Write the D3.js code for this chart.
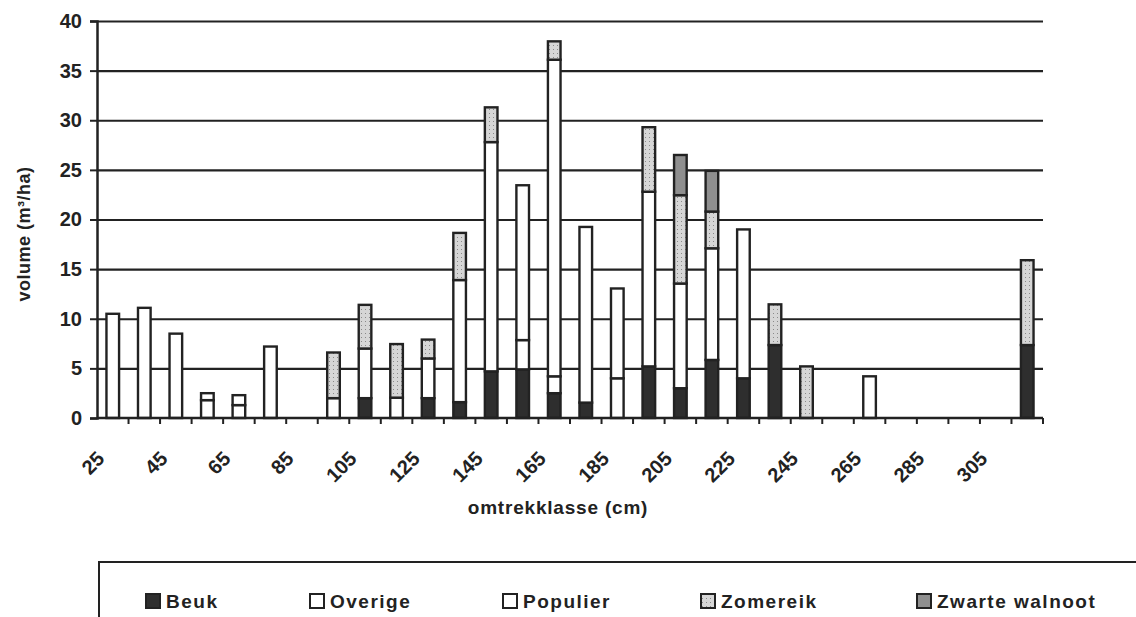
<!DOCTYPE html>
<html>
<head>
<meta charset="utf-8">
<script src="https://cdn.jsdelivr.net/npm/d3@7"></script>
<style>
  body { margin: 0; background: #fff; }
  svg { display: block; font-family: "Liberation Sans", Arial, sans-serif; font-weight: bold; }
</style>
</head>
<body>
<svg id="canvas"></svg>
<script>
// omtrekklassen (cm)
const classes = [25, 35, 45, 55, 65, 75, 85, 95, 105, 115, 125, 135, 145, 155, 165,
                 175, 185, 195, 205, 215, 225, 235, 245, 255, 265, 275, 285, 295, 305, 315];
const labelled = [25, 45, 65, 85, 105, 125, 145, 165, 185, 205, 225, 245, 265, 285, 305];

// volume per soort (m3/ha)
const beuk     = [0, 0, 0, 0, 0, 0, 0, 0, 2.0, 0, 2.0, 1.6, 4.7, 4.9, 2.5, 1.55, 0, 5.2, 3.0, 5.85, 4.0, 7.35, 0, 0, 0, 0, 0, 0, 0, 7.35];
const overige  = [10.5, 11.1, 8.5, 1.8, 1.3, 7.2, 0, 2.0, 0, 2.05, 0, 0, 0, 2.95, 1.7, 0, 4.0, 0, 0, 0, 0, 0, 0, 0, 0, 0, 0, 0, 0, 0];
const populier = [0, 0, 0, 0.7, 1.0, 0, 0, 0, 5.0, 0, 4.0, 12.3, 23.1, 15.6, 31.9, 17.7, 9.05, 17.6, 10.55, 11.25, 15.0, 0, 0, 0, 4.2, 0, 0, 0, 0, 0];
const zomereik = [0, 0, 0, 0, 0, 0, 0, 4.6, 4.4, 5.4, 1.9, 4.75, 3.5, 0, 1.85, 0, 0, 6.5, 8.9, 3.7, 0, 4.1, 5.2, 0, 0, 0, 0, 0, 0, 8.55];
const walnoot  = [0, 0, 0, 0, 0, 0, 0, 0, 0, 0, 0, 0, 0, 0, 0, 0, 0, 0, 4.05, 4.1, 0, 0, 0, 0, 0, 0, 0, 0, 0, 0];

const seriesNames = ['Beuk', 'Overige', 'Populier', 'Zomereik', 'Zwarte walnoot'];
const yTicks = [0, 5, 10, 15, 20, 25, 30, 35, 40];

const width = 1136;
const height = 617;
const margin = { top: 21, right: 93, bottom: 199, left: 97 };
const ink = '#222';

const svg = d3.select('#canvas').attr('width', width).attr('height', height);

const defs = svg.append('defs');
const stip = defs.append('pattern').attr('id', 'stip')
  .attr('patternUnits', 'userSpaceOnUse').attr('width', 4).attr('height', 4);
stip.append('rect').attr('width', 4).attr('height', 4).attr('fill', '#d6d6d6');
stip.append('rect').attr('x', 1).attr('y', 1).attr('width', 1).attr('height', 1).attr('fill', '#8a8a8a');

const fills = {
  'Beuk': '#2e2e2e',
  'Overige': '#fff',
  'Populier': '#fff',
  'Zomereik': 'url(#stip)',
  'Zwarte walnoot': '#8f8f8f'
};

const rows = classes.map((c, i) => ({
  klasse: c,
  'Beuk': beuk[i],
  'Overige': overige[i],
  'Populier': populier[i],
  'Zomereik': zomereik[i],
  'Zwarte walnoot': walnoot[i]
}));

const stacked = d3.stack().keys(seriesNames)(rows);

const x = d3.scaleBand()
  .domain(classes)
  .range([margin.left, width - margin.right])
  .paddingInner(0.6)
  .paddingOuter(0.3);

const y = d3.scaleLinear()
  .domain([0, 40])
  .range([height - margin.bottom, margin.top]);

// gridlines
svg.append('g')
  .attr('transform', `translate(${margin.left},0)`)
  .call(d3.axisLeft(y).tickValues(yTicks.slice(1)).tickSize(-(width - margin.left - margin.right)).tickFormat(''))
  .call(g => g.select('.domain').remove())
  .call(g => g.selectAll('line').attr('stroke', ink).attr('stroke-width', 2.2));

// y axis
svg.append('g')
  .attr('transform', `translate(${margin.left},0)`)
  .call(d3.axisLeft(y).tickValues(yTicks).tickSize(7).tickPadding(8))
  .call(g => g.select('.domain').attr('stroke', ink).attr('stroke-width', 2.5))
  .call(g => g.selectAll('line').attr('stroke', ink).attr('stroke-width', 2))
  .call(g => g.selectAll('text').attr('fill', '#222').style('font-size', '20px').style('font-weight', 'bold')
    .style('font-family', '"Liberation Sans", Arial, sans-serif'));

// bars
const half = x.step() * 0.3;
svg.append('g').selectAll('g')
  .data(stacked)
  .join('g')
  .attr('fill', d => fills[d.key])
  .selectAll('rect')
  .data(d => d.filter(s => s[1] - s[0] > 0))
  .join('rect')
  .attr('x', d => x(d.data.klasse))
  .attr('y', d => y(d[1]))
  .attr('width', x.bandwidth())
  .attr('height', d => y(d[0]) - y(d[1]))
  .attr('stroke', ink)
  .attr('stroke-width', 2.4);

// x axis line and ticks at class boundaries
const axisY = y(0);
svg.append('line')
  .attr('x1', margin.left).attr('x2', width - margin.right)
  .attr('y1', axisY).attr('y2', axisY)
  .attr('stroke', ink).attr('stroke-width', 2.5);
svg.append('g').selectAll('line')
  .data(classes)
  .join('line')
  .attr('x1', d => x(d) + x.bandwidth() + half)
  .attr('x2', d => x(d) + x.bandwidth() + half)
  .attr('y1', axisY).attr('y2', axisY + 6)
  .attr('stroke', ink).attr('stroke-width', 2);

svg.append('g').selectAll('text')
  .data(labelled)
  .join('text')
  .attr('transform', d => `translate(${x(d) + x.bandwidth() / 2 - 12},455) rotate(-45)`)
  .attr('text-anchor', 'end')
  .attr('dy', '0.35em')
  .attr('fill', '#222')
  .style('font-size', '20px')
  .text(d => d);

// axis titles
svg.append('text')
  .attr('x', 558)
  .attr('y', 514)
  .attr('text-anchor', 'middle')
  .attr('fill', '#222')
  .style('font-size', '19px')
  .style('letter-spacing', '0.8px')
  .text('omtrekklasse (cm)');

svg.append('text')
  .attr('transform', 'translate(30,234) rotate(-90)')
  .attr('text-anchor', 'middle')
  .attr('fill', '#222')
  .style('font-size', '18px')
  .style('letter-spacing', '0.5px')
  .text('volume (m³/ha)');

// legend
svg.append('path')
  .attr('d', `M99,${height}V562H${width}`)
  .attr('fill', 'none')
  .attr('stroke', ink)
  .attr('stroke-width', 2);

const legendX = [146, 310, 503, 701, 917];
const legend = svg.append('g').selectAll('g')
  .data(seriesNames)
  .join('g')
  .attr('transform', (d, i) => `translate(${legendX[i]},601)`);
legend.append('rect')
  .attr('x', 0).attr('y', -7)
  .attr('width', 14).attr('height', 14)
  .attr('fill', d => fills[d])
  .attr('stroke', ink)
  .attr('stroke-width', 2);
legend.append('text')
  .attr('x', 20)
  .attr('dy', '0.36em')
  .attr('fill', '#222')
  .style('font-size', '19px')
  .style('letter-spacing', '1.5px')
  .text(d => d);
</script>
</body>
</html>
